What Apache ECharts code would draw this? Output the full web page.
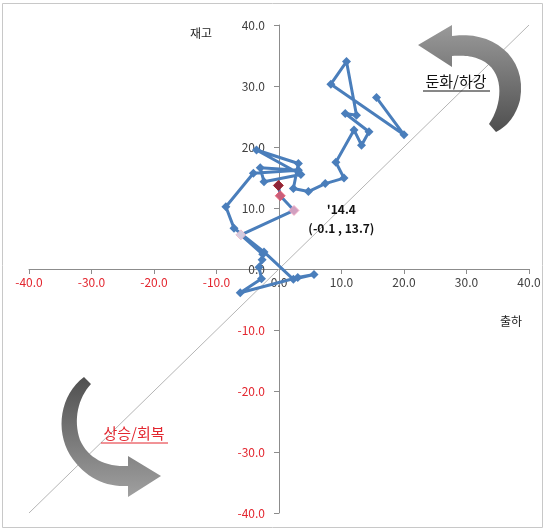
<!DOCTYPE html>
<html><head><meta charset="utf-8">
<script src="https://cdn.jsdelivr.net/npm/echarts@6/dist/echarts.min.js"></script>
<style>html,body{margin:0;padding:0;background:#fff}#c{width:545px;height:531px}</style>
</head><body><div id="c"></div>
<script>
// 출하 (x) / 재고 (y) path, in time order
const shipX = [15.6, 20.0, 8.3, 10.8, 12.4, 10.6, 14.4, 13.2, 12.0, 9.1, 10.4, 7.4,
  4.7, 2.3, 3.1, -3.6, 3.5, -2.4, -3.0, 3.1, -4.1, -8.5, -7.2, -2.4,
  2.3, 5.6, 3.0, -6.2, -2.8, -3.2, -2.7, -2.6, -6.1, 2.4, 0.2, -0.1];
const invY = [28.1, 22.0, 30.3, 34.0, 25.2, 25.5, 22.5, 20.3, 22.8, 17.5, 14.9, 14.0,
  12.7, 13.2, 17.3, 19.5, 15.5, 14.3, 16.6, 16.2, 15.7, 10.2, 6.7, 2.8,
  -1.7, -0.9, -1.4, -3.9, -1.6, 0.3, 1.5, 2.4, 5.6, 9.6, 12.0, 13.7];
// last four points highlighted
const recentColors = ['#f7dfe8', '#f3a9c2', '#e8566a', '#9c0f18'];
const axisMin = -40, axisMax = 40, axisStep = 10;
const diagX = [-40, 40];
const diagY = [-40, 40];
const latestName = "'14.4";
const latestCoord = "(-0.1 , 13.7)";
const xAxisTitle = '출하';
const yAxisTitle = '재고';
const slowText = '둔화/하강';
const riseText = '상승/회복';

const RED = '#e3262f';
const FONT = '"Noto Sans CJK KR", "Noto Sans", sans-serif';

const G = { left: 29, right: 16, top: 25, bottom: 18 };
const W = 545, H = 531;
const plotW = W - G.left - G.right, plotH = H - G.top - G.bottom;
const zeroFromLeft = plotW * (0 - axisMin) / (axisMax - axisMin);
const zeroFromBottom = plotH * (0 - axisMin) / (axisMax - axisMin);

const pathData = shipX.map((x, i) => [x, invY[i]]);
const nRecent = recentColors.length;
const recentData = pathData.slice(pathData.length - nRecent).map((p, i) => ({
  value: p,
  itemStyle: { color: recentColors[i], borderColor: i === 0 ? '#e9b3c6' : recentColors[i], borderWidth: 1 }
}));

function pathToPoints(d) {
  const t = d.match(/[MLCZ]|-?\d+(\.\d+)?/gi);
  const pts = [];
  let i = 0, cx = 0, cy = 0, cmd = '';
  while (i < t.length) {
    if (/^[MLCZ]$/i.test(t[i])) { cmd = t[i].toUpperCase(); i++; continue; }
    if (cmd === 'M' || cmd === 'L') {
      cx = +t[i]; cy = +t[i + 1]; i += 2; pts.push([cx, cy]);
    } else if (cmd === 'C') {
      const x1 = +t[i], y1 = +t[i + 1], x2 = +t[i + 2], y2 = +t[i + 3], x3 = +t[i + 4], y3 = +t[i + 5];
      i += 6;
      for (let k = 1; k <= 16; k++) {
        const s = k / 16, u = 1 - s;
        pts.push([u * u * u * cx + 3 * u * u * s * x1 + 3 * u * s * s * x2 + s * s * s * x3,
                  u * u * u * cy + 3 * u * u * s * y1 + 3 * u * s * s * y2 + s * s * s * y3]);
      }
      cx = x3; cy = y3;
    } else { i++; }
  }
  return pts;
}

const chart = echarts.init(document.getElementById('c'), null, { renderer: 'canvas' });

const axisCommon = {
  type: 'value', min: axisMin, max: axisMax, interval: axisStep,
  axisLine: { onZero: false, lineStyle: { color: '#8c8c8c', width: 1 } },
  axisTick: { show: true, length: 5, lineStyle: { color: '#8c8c8c' } },
  splitLine: { show: false },
};

chart.setOption({
  animation: false,
  backgroundColor: '#ffffff',
  grid: Object.assign({ containLabel: false, outerBoundsMode: 'none' }, G),
  xAxis: Object.assign({}, axisCommon, {
    position: 'bottom', offset: -zeroFromBottom,
    axisLabel: {
      margin: 7, fontSize: 12, fontFamily: FONT,
      formatter: v => Number(v).toFixed(1),
      color: v => (parseFloat(v) < 0 ? RED : '#404040')
    }
  }),
  yAxis: Object.assign({}, axisCommon, {
    position: 'left', offset: -zeroFromLeft,
    axisLabel: {
      margin: 14, fontSize: 12, fontFamily: FONT,
      formatter: v => Number(v).toFixed(1),
      color: v => (parseFloat(v) < 0 ? RED : '#404040')
    }
  }),
  series: [
    {
      type: 'line', silent: true, symbol: 'none', z: 1,
      data: diagX.map((x, i) => [x, diagY[i]]),
      lineStyle: { color: '#b5b5b5', width: 1 }
    },
    {
      type: 'line', z: 3,
      data: pathData,
      symbol: 'diamond', symbolSize: 9,
      itemStyle: { color: '#4a7ebb' },
      lineStyle: { color: '#4a7ebb', width: 3 }
    },
    {
      type: 'scatter', z: 5,
      data: recentData,
      symbol: 'diamond', symbolSize: 10
    }
  ]
});

const last = pathData[pathData.length - 1];
const lp = chart.convertToPixel({ gridIndex: 0 }, last);

const grayGradTR = new echarts.graphic.LinearGradient(0, 0, 0, 1, [
  { offset: 0, color: '#9a9a9a' }, { offset: 1, color: '#4f4f4f' }]);
const grayGradBL = new echarts.graphic.LinearGradient(0, 0, 0, 1, [
  { offset: 0, color: '#4f4f4f' }, { offset: 1, color: '#a0a0a0' }]);

const arrowTR = pathToPoints('M452 36 C490 30 528 55 520 100 C516 115 508 126 496 132 L489 124 C502 105 505 75 485 62 C475 56 465 55 452 56 L452 67 L418 45 L452 25 Z');
const arrowBL = pathToPoints('M84 377 C60 395 55 430 70 455 C85 478 105 487 128 486 L128 497 L161 476 L128 456 L128 466 C105 467 88 458 80 440 C73 420 78 398 91 384 Z');

chart.setOption({
  graphic: [
    { type: 'rect', silent: true, z: -10, shape: { x: 2.5, y: 3.5, width: 540, height: 524 },
      style: { fill: 'none', stroke: '#c8c8c8', lineWidth: 1 } },
    { type: 'polygon', silent: true, z: 10, shape: { points: arrowTR }, style: { fill: grayGradTR } },
    { type: 'polygon', silent: true, z: 10, shape: { points: arrowBL }, style: { fill: grayGradBL } },
    { type: 'text', silent: true, z: 20, left: 190, top: 27,
      style: { text: yAxisTitle, font: '12px ' + FONT, fill: '#222' } },
    { type: 'text', silent: true, z: 20, left: 500, top: 315,
      style: { text: xAxisTitle, font: '12px ' + FONT, fill: '#222' } },
    { type: 'text', silent: true, z: 20, x: 456, y: 81,
      style: { text: slowText, font: '15px ' + FONT, fill: '#111', align: 'center', verticalAlign: 'middle' } },
    { type: 'line', silent: true, z: 20, shape: { x1: 423, y1: 91, x2: 490, y2: 91 },
      style: { stroke: '#111', lineWidth: 1 } },
    { type: 'text', silent: true, z: 20, x: 134, y: 433,
      style: { text: riseText, font: '15px ' + FONT, fill: RED, align: 'center', verticalAlign: 'middle' } },
    { type: 'line', silent: true, z: 20, shape: { x1: 101, y1: 443, x2: 168, y2: 443 },
      style: { stroke: RED, lineWidth: 1 } },
    { type: 'text', silent: true, z: 20, x: lp[0] + 63, y: lp[1] + 24,
      style: { text: latestName, font: 'bold 12px ' + FONT, fill: '#111', align: 'center', verticalAlign: 'middle' } },
    { type: 'text', silent: true, z: 20, x: lp[0] + 63, y: lp[1] + 43,
      style: { text: latestCoord, font: 'bold 12px ' + FONT, fill: '#111', align: 'center', verticalAlign: 'middle' } }
  ]
});
</script>
</body></html>
